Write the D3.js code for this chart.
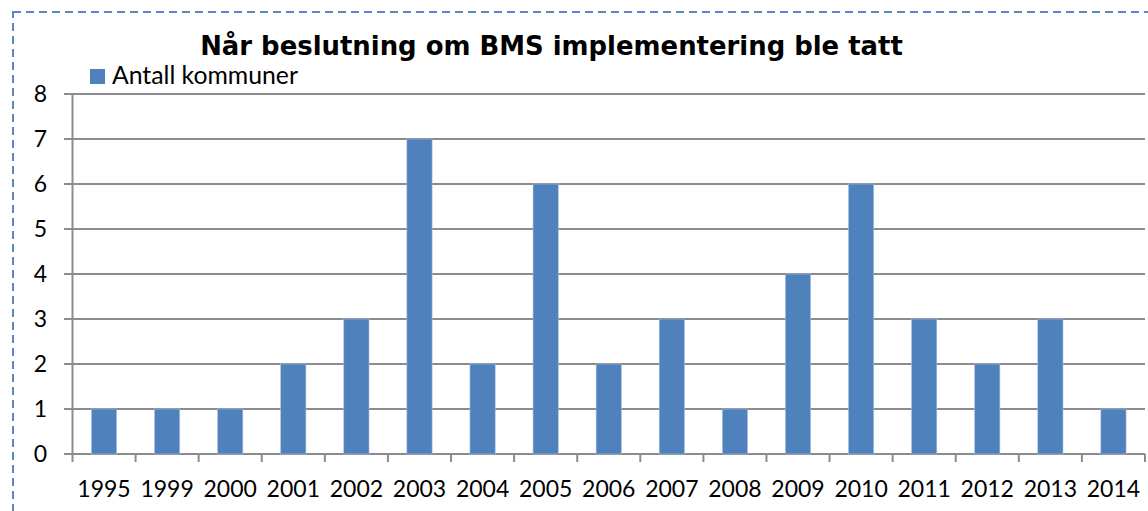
<!DOCTYPE html>
<html><head><meta charset="utf-8">
<script src="https://cdn.jsdelivr.net/npm/d3@7/dist/d3.min.js"></script>
<style>body{margin:0;background:#fff}svg{display:block}</style>
</head><body>
<svg id="c" width="1148" height="511"></svg>
<script>
const categories = ["1995","1999","2000","2001","2002","2003","2004","2005","2006","2007","2008","2009","2010","2011","2012","2013","2014"];
const values = [1,1,1,2,3,7,2,6,2,3,1,4,6,3,2,3,1];
const yTicks = [0,1,2,3,4,5,6,7,8];
const title = "Når beslutning om BMS implementering ble tatt";
const seriesName = "Antall kommuner";

(function () {
const svg = d3.select("#c");
const font = "Lato, 'Open Sans', sans-serif";
const fs = 23;
const pL = 72.5, pR = 1145, pT = 94, pB = 454;
const x = d3.scaleBand().domain(categories).range([pL, pR]).padding(0);
const y = d3.scaleLinear().domain([0, 8]).range([pB, pT]);

// dashed border
svg.append("rect").attr("x", 13).attr("y", 12).attr("width", 1160).attr("height", 520)
  .attr("fill", "none").attr("stroke", "#5b87c5").attr("stroke-width", 2).attr("stroke-dasharray", "8,5");

// gridlines
svg.append("g").selectAll("line").data(yTicks).join("line")
  .attr("x1", 64).attr("x2", pR).attr("y1", d => y(d)).attr("y2", d => y(d))
  .attr("stroke", "#8c8c8c").attr("stroke-width", 2);

// y axis line
svg.append("line").attr("x1", pL).attr("x2", pL).attr("y1", pT).attr("y2", pB)
  .attr("stroke", "#8c8c8c").attr("stroke-width", 2);

// x ticks
const xt = categories.map(c => x(c)).concat([pR]);
svg.append("g").selectAll("line").data(xt).join("line")
  .attr("x1", d => d).attr("x2", d => d).attr("y1", pB).attr("y2", pB + 8)
  .attr("stroke", "#8c8c8c").attr("stroke-width", 2);

// bars
const bw = x.bandwidth() * 0.4;
svg.append("g").selectAll("rect").data(values).join("rect")
  .attr("x", (d, i) => x(categories[i]) + x.bandwidth() / 2 - bw / 2)
  .attr("width", bw)
  .attr("y", d => y(d)).attr("height", d => y(0) - y(d))
  .attr("fill", "#4f81bd").attr("stroke", "#a9c0df").attr("stroke-width", 0.6);

// y labels
svg.append("g").selectAll("text").data(yTicks).join("text")
  .attr("x", 47).attr("y", d => y(d) + 8).attr("text-anchor", "end")
  .attr("font-family", font).attr("font-size", fs).attr("fill", "#000").text(d => d);

// x labels
svg.append("g").selectAll("text").data(categories).join("text")
  .attr("x", d => x(d) + x.bandwidth() / 2).attr("y", 497).attr("text-anchor", "middle")
  .attr("font-family", font).attr("font-size", fs).attr("fill", "#000").text(d => d);

// title
const t = svg.append("text").attr("x", 551.5).attr("y", 55).attr("text-anchor", "middle")
  .attr("font-family", "'DejaVu Sans', sans-serif").attr("font-weight", "bold")
  .attr("font-size", 27).attr("fill", "#000").text(title);
const tw = t.node().getComputedTextLength();
t.attr("font-size", 27 * 703 / tw);

// legend
svg.append("rect").attr("x", 90).attr("y", 69).attr("width", 15).attr("height", 15).attr("fill", "#4f81bd");
const lg = svg.append("text").attr("x", 112).attr("y", 84)
  .attr("font-family", font).attr("font-size", fs).attr("fill", "#000").text(seriesName);
const lw = lg.node().getComputedTextLength();
lg.attr("font-size", fs * 186 / lw);
})();
</script>
</body></html>
